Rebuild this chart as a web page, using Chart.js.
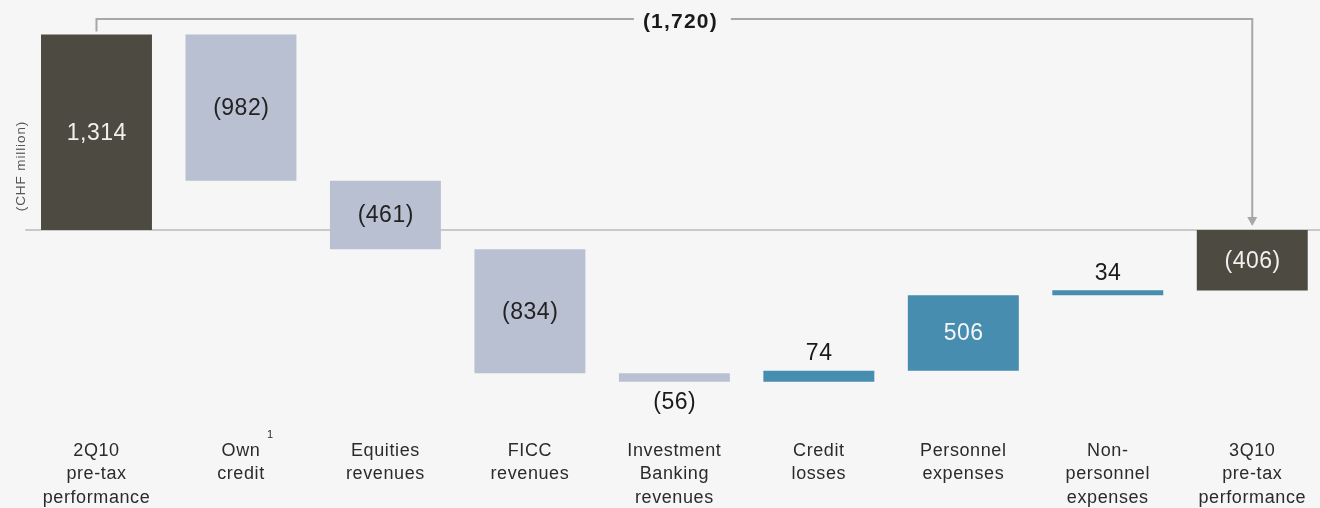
<!DOCTYPE html>
<html><head><meta charset="utf-8">
<script src="https://cdn.jsdelivr.net/npm/chart.js@4/dist/chart.umd.min.js"></script>
<style>
html,body{margin:0;padding:0;background:#f6f6f6;overflow:hidden}
#wrap{width:1326px;height:508px;position:relative}
</style>
</head><body><div id="wrap"><canvas id="c"></canvas></div>
<script>
// ---- data ----
const categories = [
  ["2Q10","pre-tax","performance"],
  ["Own","credit"],
  ["Equities","revenues"],
  ["FICC","revenues"],
  ["Investment","Banking","revenues"],
  ["Credit","losses"],
  ["Personnel","expenses"],
  ["Non-","personnel","expenses"],
  ["3Q10","pre-tax","performance"]
];
const startValue = 1314;
const deltas = [-982, -461, -834, -56, 74, 506, 34];
const endValue = -406;
const valueLabels = ["1,314","(982)","(461)","(834)","(56)","74","506","34","(406)"];
const labelPlacement = ["in","in","in","in","below","above","in","above","in"];
const footnoteMarks = ["","1","","","","","","",""];
const yAxisTitle = "(CHF million)";

// ---- build floating bars ----
const ranges = [[0, startValue]];
const kinds = ["total"];
let run = startValue;
deltas.forEach(d => { ranges.push([run, run + d]); kinds.push(d < 0 ? "neg" : "pos"); run += d; });
ranges.push([0, endValue]); kinds.push("total");
const totalChange = startValue - endValue;
const fmt = v => v.toLocaleString('en-US');
const bracketText = "(" + fmt(totalChange) + ")";

const kindColor = {total:"#4d4a41", neg:"#b9c0d2", pos:"#478daf"};
const kindText = {total:"#f0f0ee", neg:"#222222", pos:"#f4f6f8"};
const FONT = "'Liberation Sans', Arial, sans-serif";

const wfPlugin = {
  id: 'wf',
  beforeDraw(chart){ chart.ctx.letterSpacing = '0.6px'; },
  beforeDatasetsDraw(chart){
    const {ctx, chartArea, scales:{y}} = chart;
    const y0 = y.getPixelForValue(0);
    ctx.save();
    ctx.strokeStyle = '#c9c9c9'; ctx.lineWidth = 2;
    ctx.beginPath(); ctx.moveTo(chartArea.left + 1, y0); ctx.lineTo(chart.width, y0); ctx.stroke();
    ctx.restore();
  },
  afterDatasetsDraw(chart){
    const {ctx, scales:{x, y}} = chart;
    const meta = chart.getDatasetMeta(0);
    ctx.save();
    // value labels
    ctx.font = "23px " + FONT;
    ctx.letterSpacing = '0.5px';
    ctx.textAlign = 'center'; ctx.textBaseline = 'middle';
    meta.data.forEach((bar, i) => {
      const top = Math.min(bar.y, bar.base), bot = Math.max(bar.y, bar.base);
      let ty, col;
      if (labelPlacement[i] === 'in') { ty = (top + bot) / 2 + 1; col = kindText[kinds[i]]; }
      else if (labelPlacement[i] === 'above') { ty = top - 17; col = '#1a1a1a'; }
      else { ty = bot + 21; col = '#1a1a1a'; }
      ctx.fillStyle = col;
      ctx.fillText(valueLabels[i], bar.x + 0.3, ty);
    });
    // bracket connector
    const first = meta.data[0], last = meta.data[meta.data.length - 1];
    const x1 = first.x, xN = last.x;
    const yb = y.getPixelForValue(1418);
    const y1 = Math.min(first.y, first.base) - 3;
    const yN = Math.min(last.y, last.base) - 4;
    ctx.font = "bold 21px " + FONT;
    ctx.letterSpacing = '1.2px';
    const tw = ctx.measureText(bracketText).width;
    const tx = (x1 + xN) / 2 + 5;
    ctx.strokeStyle = '#a7a7a7'; ctx.lineWidth = 2;
    ctx.beginPath();
    ctx.moveTo(x1, y1); ctx.lineTo(x1, yb); ctx.lineTo(tx - tw/2 - 8, yb);
    ctx.moveTo(tx + tw/2 + 14, yb); ctx.lineTo(xN, yb); ctx.lineTo(xN, yN - 8);
    ctx.stroke();
    ctx.fillStyle = '#a7a7a7';
    ctx.beginPath(); ctx.moveTo(xN - 5, yN - 9); ctx.lineTo(xN + 5, yN - 9); ctx.lineTo(xN, yN); ctx.closePath(); ctx.fill();
    ctx.fillStyle = '#1a1a1a';
    ctx.fillText(bracketText, tx + 1, yb + 3);
    // footnote marks
    ctx.font = "11px " + FONT; ctx.letterSpacing = '0px'; ctx.fillStyle = '#2b2b2b';
    footnoteMarks.forEach((m, i) => { if (m) ctx.fillText(m, x.getPixelForValue(i) + 29, 435); });
    // y axis title
    ctx.font = "13.5px " + FONT; ctx.letterSpacing = '0.9px'; ctx.fillStyle = '#555';
    ctx.translate(21.5, 166); ctx.rotate(-Math.PI / 2);
    ctx.fillText(yAxisTitle, 0, 0);
    ctx.restore();
  }
};

new Chart(document.getElementById('c'), {
  type: 'bar',
  data: {
    labels: categories,
    datasets: [{
      data: ranges,
      backgroundColor: kinds.map(k => kindColor[k]),
      borderWidth: 0,
      barPercentage: 0.768,
      categoryPercentage: 1
    }]
  },
  options: {
    responsive: true,
    maintainAspectRatio: false,
    animation: false,
    layout: { padding: { left: 24.25, right: 1.5, top: 0, bottom: 0 } },
    plugins: { legend: { display: false }, tooltip: { enabled: false }, title: { display: false } },
    scales: {
      x: {
        grid: { display: false, drawTicks: false },
        border: { display: false },
        ticks: {
          autoSkip: false, maxRotation: 0, minRotation: 0, padding: 9,
          color: '#2b2b2b',
          font: { family: FONT, size: 18, lineHeight: 1.305 }
        },
        afterFit(scale){ scale.height = 78; }
      },
      y: { display: false, min: -1344, max: 1546 }
    }
  },
  plugins: [wfPlugin]
});
</script>
</body></html>
